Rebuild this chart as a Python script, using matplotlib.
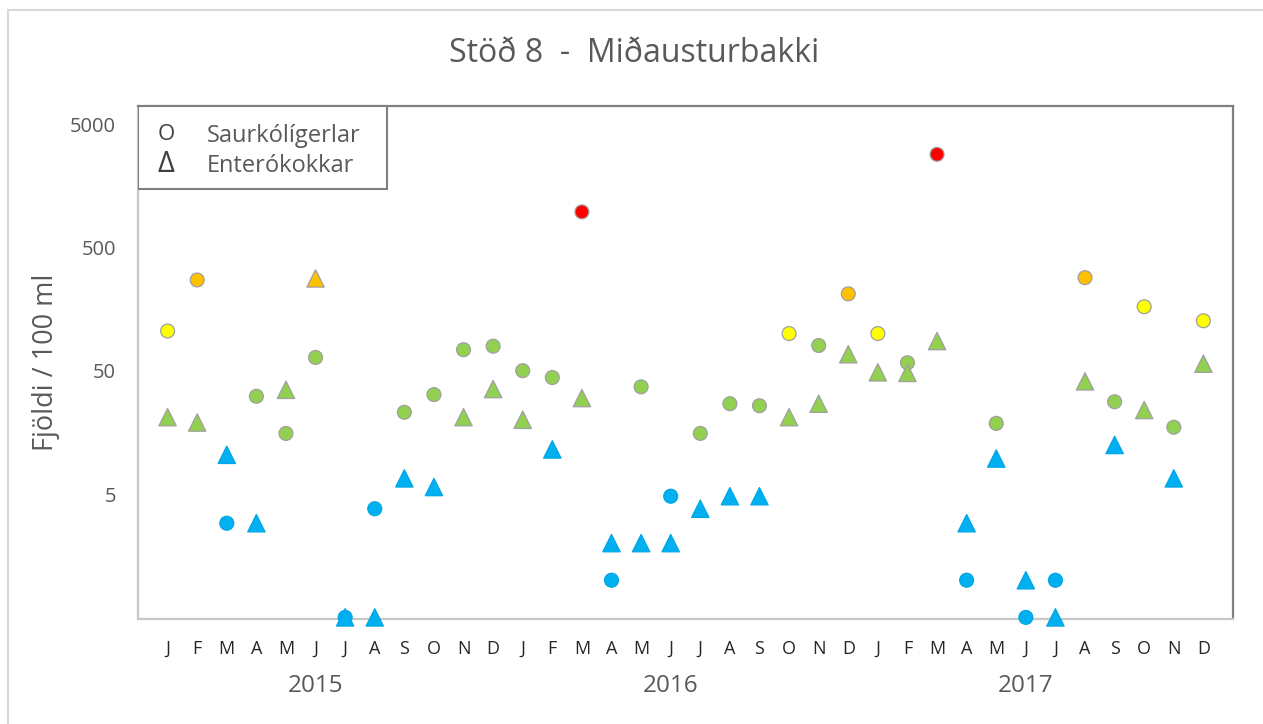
import numpy as np
import matplotlib.pyplot as plt
from matplotlib.lines import Line2D
from matplotlib.patches import Rectangle
from matplotlib.transforms import blended_transform_factory

plt.rcParams['font.family'] = ['Open Sans', 'DejaVu Sans']

# month labels, one per sample (Jan 2015 - Dec 2017)
months = list("JFMAMJJASOND") * 3
years = ["2015", "2016", "2017"]

# Saurkólígerlar (circles), fjöldi / 100 ml
saurkoli = [105, 272, 2.9, 31, 15.5, 64, 0.5, 3.8, 23, 32, 74, 79,
            50, 44, 970, 1.0, 37, 4.8, 15.5, 27, 26, 100, 80, 210,
            100, 58, 2840, 1.0, 18.7, 0.5, 1.0, 284, 28, 165, 17.4, 127]
# Enterókokkar (triangles), fjöldi / 100 ml
enterokokkar = [21, 19, 10.4, 2.9, 35, 280, 0.5, 0.5, 6.7, 5.7, 21, 35.5,
                20, 11.5, 30, 2.0, 2.0, 2.0, 3.8, 4.8, 4.8, 21, 27, 68,
                48.5, 48, 87, 2.9, 9.7, 1.0, 0.5, 41, 12.5, 24, 6.7, 57]

# class limits and colours
limits = [14, 100, 200, 500]
class_colors = ["#00B0F0", "#92D050", "#FFFF00", "#FFC000", "#FF0000"]


def colour_of(values):
    idx = np.searchsorted(limits, values, side="right")
    return [class_colors[i] for i in idx]


def edge_of(cols):
    return ["#00A6E6" if c == "#00B0F0" else "#A0A0A0" for c in cols]


x = np.arange(1, len(months) + 1)

fig = plt.figure(figsize=(12.63, 7.24), dpi=100)
ax = fig.add_axes([138 / 1263, 1 - 619 / 724, 1095 / 1263, 513 / 724])

c1 = colour_of(saurkoli)
ax.scatter(x, saurkoli, s=10 ** 2, marker="o", c=c1, edgecolors=edge_of(c1),
           linewidths=0.9, zorder=3, clip_on=False)
c2 = colour_of(enterokokkar)
ax.scatter(x, enterokokkar, s=12.5 ** 2, marker="^", c=c2, edgecolors=edge_of(c2),
           linewidths=0.9, zorder=4, clip_on=False)

ax.set_yscale("log")
ax.set_ylim(0.485, 7000)
ax.set_xlim(0, len(months) + 1)
ax.set_yticks([5, 50, 500, 5000])
ax.set_yticklabels(["5", "50", "500", "5000"])
ax.yaxis.set_minor_locator(plt.NullLocator())
ax.set_xticks(x)
ax.set_xticklabels(months)
ax.tick_params(axis="x", length=0, pad=15, labelsize=13, labelcolor="#262626")
ax.tick_params(axis="y", length=0, pad=16, labelsize=14.5, labelcolor="#595959")

for side in ["top", "right"]:
    ax.spines[side].set_color("#808080")
    ax.spines[side].set_linewidth(1.6)
for side in ["left", "bottom"]:
    ax.spines[side].set_color("#C8C8C8")
    ax.spines[side].set_linewidth(1.6)

ax.set_ylabel("Fjöldi / 100 ml", fontsize=19.5, color="#595959")
ax.yaxis.set_label_coords(-0.071, 0.5)

# year labels under the June of each year
trans = blended_transform_factory(ax.transData, ax.transAxes)
for i, yr in enumerate(years):
    ax.text(6 + 12 * i, -0.13, yr, transform=trans, ha="center", va="center",
            fontsize=17.5, color="#595959")

# legend box
leg = Rectangle((0, 1), 249 / 1095, -83 / 513, transform=ax.transAxes,
                facecolor="white", edgecolor="#7F7F7F", linewidth=1.5, zorder=5)
ax.add_patch(leg)
ax.text(28 / 1095, 1 - 29 / 513, "O", transform=ax.transAxes, ha="center",
        va="center", fontsize=16, color="#404040", zorder=6)
ax.text(28 / 1095, 1 - 59 / 513, "Δ", transform=ax.transAxes, ha="center",
        va="center", fontsize=21, color="#404040", zorder=6)
ax.text(69 / 1095, 1 - 30 / 513, "Saurkólígerlar", transform=ax.transAxes,
        ha="left", va="center", fontsize=17, color="#595959", zorder=6)
ax.text(69 / 1095, 1 - 60 / 513, "Enterókokkar", transform=ax.transAxes,
        ha="left", va="center", fontsize=17, color="#595959", zorder=6)

fig.text(634 / 1263, 1 - 53 / 724, "Stöð 8  -  Miðausturbakki", ha="center",
         va="center", fontsize=23, color="#595959")

# outer chart border (light gray)
fig.add_artist(Line2D([8 / 1263, 8 / 1263], [0, 1 - 10 / 724], color="#D9D9D9",
                      linewidth=1.5, transform=fig.transFigure))
fig.add_artist(Line2D([8 / 1263, 1], [1 - 10 / 724, 1 - 10 / 724], color="#D9D9D9",
                      linewidth=1.5, transform=fig.transFigure))

fig.savefig("out.png", dpi=100)
